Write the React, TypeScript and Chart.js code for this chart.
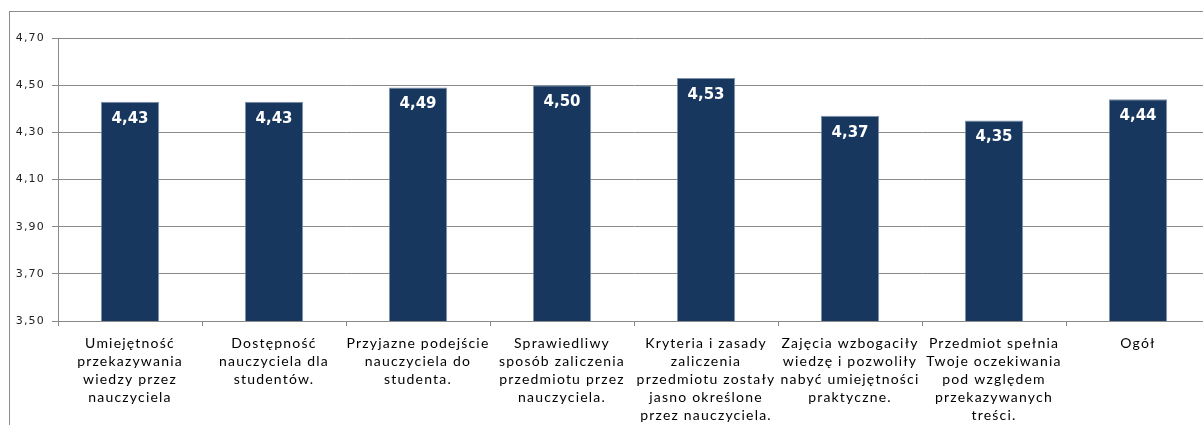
import React, { useEffect, useRef } from "react";
import { Chart, registerables } from "chart.js";

Chart.register(...registerables);

const categories: string[][] = [
  ["Umiejętność", "przekazywania", "wiedzy przez", "nauczyciela"],
  ["Dostępność", "nauczyciela dla", "studentów."],
  ["Przyjazne podejście", "nauczyciela do", "studenta."],
  ["Sprawiedliwy", "sposób zaliczenia", "przedmiotu przez", "nauczyciela."],
  ["Kryteria i zasady", "zaliczenia", "przedmiotu zostały", "jasno określone", "przez nauczyciela."],
  ["Zajęcia wzbogaciły", "wiedzę i pozwoliły", "nabyć umiejętności", "praktyczne."],
  ["Przedmiot spełnia", "Twoje oczekiwania", "pod względem", "przekazywanych", "treści."],
  ["Ogół"],
];

const values: number[] = [4.43, 4.43, 4.49, 4.5, 4.53, 4.37, 4.35, 4.44];

const yMin = 3.5;
const yMax = 4.7;
const yStep = 0.2;

const fmt = (v: number) => v.toFixed(2).replace(".", ",");

const spacingPlugin = {
  id: "spacing",
  beforeDraw(chart: any) {
    (chart.ctx as any).letterSpacing = "1.2px";
  },
  beforeDatasetsDraw(chart: any) {
    (chart.ctx as any).letterSpacing = "0px";
  },
};

const valueLabels = {
  id: "valueLabels",
  afterDatasetsDraw(chart: any) {
    const ctx = chart.ctx;
    const meta = chart.getDatasetMeta(0);
    ctx.save();
    (ctx as any).letterSpacing = "0px";
    ctx.font = "bold 15px 'DejaVu Sans'";
    ctx.fillStyle = "#ffffff";
    ctx.textAlign = "center";
    ctx.textBaseline = "middle";
    meta.data.forEach((bar: any, i: number) => {
      ctx.fillText(fmt(values[i]), bar.x, bar.y + 17);
    });
    ctx.restore();
  },
};

export default function App() {
  const ref = useRef<HTMLCanvasElement>(null);

  useEffect(() => {
    if (!ref.current) return;
    const chart = new Chart(ref.current, {
      type: "bar",
      data: {
        labels: categories,
        datasets: [
          {
            data: values,
            backgroundColor: "#17375E",
            borderColor: "#7f92aa",
            borderWidth: 1,
            barPercentage: 0.405,
            categoryPercentage: 1,
          },
        ],
      },
      options: {
        animation: false,
        responsive: false,
        maintainAspectRatio: false,
        layout: { padding: { top: 26, right: 15, left: 0, bottom: 0 } },
        plugins: {
          legend: { display: false },
          tooltip: { enabled: false },
        },
        scales: {
          x: {
            offset: true,
            grid: {
              offset: true,
              drawOnChartArea: false,
              drawTicks: true,
              tickLength: 5,
              color: "#8a8a8a",
            },
            border: { display: true, color: "#8a8a8a" },
            ticks: {
              autoSkip: false,
              maxRotation: 0,
              minRotation: 0,
              padding: 8,
              color: "#000000",
              font: { family: "Lato", size: 14, lineHeight: 1.3 },
            },
            afterFit(scale: any) {
              scale.height = 104;
            },
          },
          y: {
            min: yMin,
            max: yMax,
            grid: {
              color: "#8a8a8a",
              tickLength: 6,
            },
            border: { display: true, color: "#8a8a8a" },
            ticks: {
              stepSize: yStep,
              padding: 7,
              color: "#222222",
              font: { family: "DejaVu Sans", size: 11 },
              callback: (v: any) => fmt(Number(v)),
            },
            afterFit(scale: any) {
              scale.width = 48;
            },
          },
        },
      },
      plugins: [spacingPlugin, valueLabels],
    });
    return () => chart.destroy();
  }, []);

  return (
    <div
      style={{
        position: "absolute",
        left: 0,
        top: 0,
        width: 1203,
        height: 425,
        overflow: "hidden",
      }}
    >
      <div
        style={{
          position: "absolute",
          left: 9,
          top: 11,
          width: 1240,
          height: 450,
          border: "1px solid #8c8c8c",
          boxSizing: "border-box",
        }}
      >
        <canvas
          ref={ref}
          width={1215}
          height={413}
          style={{ display: "block", width: 1215, height: 413 }}
        />
      </div>
    </div>
  );
}
